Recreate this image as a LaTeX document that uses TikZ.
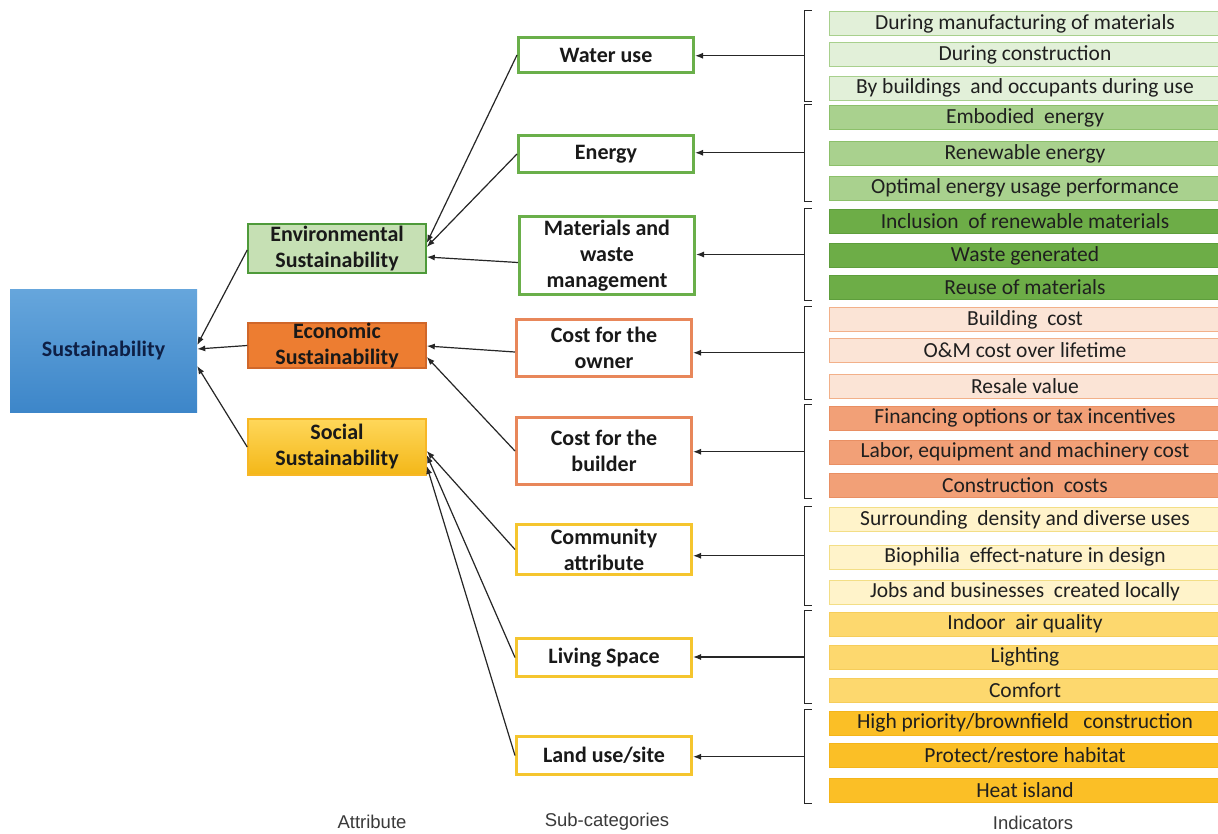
\documentclass[tikz,border=0pt]{standalone}
\usepackage{fontspec}
\setmainfont{Carlito}
\newfontfamily\labfont{Liberation Sans}
\usetikzlibrary{arrows.meta,calc}
\definecolor{susTop}{HTML}{66A6DC}
\definecolor{susBot}{HTML}{3D86C9}
\definecolor{susTxt}{HTML}{0E1F45}
\definecolor{envFill}{HTML}{C6E0B4}
\definecolor{envLine}{HTML}{4E9A3A}
\definecolor{ecoFill}{HTML}{ED7D31}
\definecolor{ecoLine}{HTML}{D0672A}
\definecolor{socTop}{HTML}{FFD75A}
\definecolor{socBot}{HTML}{F3B718}
\definecolor{gLine}{HTML}{6AAF4A}
\definecolor{oLine}{HTML}{E8875A}
\definecolor{yLine}{HTML}{F5C52E}
\definecolor{wFill}{HTML}{E2F0D9}
\definecolor{wLine}{HTML}{A8D08D}
\definecolor{eFill}{HTML}{A9D18E}
\definecolor{eLine}{HTML}{8CC06A}
\definecolor{mFill}{HTML}{6DAD47}
\definecolor{mLine}{HTML}{5E9E3C}
\definecolor{owFill}{HTML}{FBE4D6}
\definecolor{owLine}{HTML}{F2B089}
\definecolor{bdFill}{HTML}{F2A077}
\definecolor{bdLine}{HTML}{E98F63}
\definecolor{cmFill}{HTML}{FFF3CA}
\definecolor{cmLine}{HTML}{F3DE86}
\definecolor{lvFill}{HTML}{FDD86E}
\definecolor{lvLine}{HTML}{F6CD5A}
\definecolor{ldFill}{HTML}{FBBF26}
\definecolor{ldLine}{HTML}{F4B51A}
\definecolor{labTxt}{HTML}{3A3A3A}
\begin{document}
\begin{tikzpicture}[x=1pt,y=-1pt,
  ind/.style={draw, line width=0.8pt, minimum width=392pt, minimum height=24pt,
    inner sep=0pt, font=\fontsize{21.5}{24}\selectfont, text=black!88},
  sub/.style={draw, fill=white, line width=3pt, minimum width=175pt, align=center,
    inner sep=0pt, font=\fontsize{22}{26}\selectfont\bfseries, text=black!90},
  attr/.style={draw, line width=1.5pt, minimum width=178pt, align=center,
    inner sep=0pt, font=\fontsize{22}{26}\selectfont\bfseries, text=black!90},
  arr/.style={-{Latex[length=8pt,width=6pt]}, line width=1.2pt, draw=black!85},
  brk/.style={line width=1pt, draw=black!85},
  lab/.style={font=\labfont\fontsize{18.5}{20}\selectfont, text=labTxt}]
\useasboundingbox (0,0) rectangle (1218,833);
\fill[white] (0,0) rectangle (1218,833);

% root
\node[shade, top color=susTop, bottom color=susBot, minimum width=187pt, minimum height=123pt,
  inner sep=0pt, font=\fontsize{22}{26}\selectfont\bfseries, text=susTxt] (sus) at (103.5,350.5) {Sustainability};

% attributes
\node[attr, draw=envLine, fill=envFill, minimum height=49pt] (env) at (337,248.5) {Environmental\\Sustainability};
\node[attr, draw=ecoLine, fill=ecoFill, minimum height=45pt] (eco) at (337,345.5) {Economic\\Sustainability};
\node[attr, draw=yLine!80!orange, shade, top color=socTop, bottom color=socBot, minimum height=56pt] (soc) at (337,447) {Social\\Sustainability};

% sub-categories
\node[sub, draw=gLine, minimum height=35pt] (wat) at (606,55) {Water use};
\node[sub, draw=gLine, minimum height=37pt] (ene) at (606,154) {Energy};
\node[sub, draw=gLine, minimum height=78pt] (mat) at (607,255.5) {Materials and\\waste\\management};
\node[sub, draw=oLine, minimum height=57pt] (own) at (604,348) {Cost for the\\owner};
\node[sub, draw=oLine, minimum height=67pt] (bld) at (604,451) {Cost for the\\builder};
\node[sub, draw=yLine, minimum height=50pt] (com) at (604,549.5) {Community\\attribute};
\node[sub, draw=yLine, minimum height=38pt] (liv) at (604,657.5) {Living Space};
\node[sub, draw=yLine, minimum height=38pt] (lan) at (604,755.5) {Land use/site};

% indicators
\node[ind, fill=wFill, draw=wLine] (i1) at (1025,23.5) {During manufacturing of materials};
\node[ind, fill=wFill, draw=wLine] (i2) at (1025,54.5) {During construction};
\node[ind, fill=wFill, draw=wLine] (i3) at (1025,88) {By buildings\ \ and occupants during use};
\node[ind, fill=eFill, draw=eLine] (i4) at (1025,117.5) {Embodied\ \ energy};
\node[ind, fill=eFill, draw=eLine] (i5) at (1025,153.5) {Renewable energy};
\node[ind, fill=eFill, draw=eLine] (i6) at (1025,188) {Optimal energy usage performance};
\node[ind, fill=mFill, draw=mLine] (i7) at (1025,221.5) {Inclusion\ \ of renewable materials};
\node[ind, fill=mFill, draw=mLine] (i8) at (1025,255.5) {Waste generated};
\node[ind, fill=mFill, draw=mLine] (i9) at (1025,287.5) {Reuse of materials};
\node[ind, fill=owFill, draw=owLine] (i10) at (1025,319.5) {Building\ \ cost};
\node[ind, fill=owFill, draw=owLine] (i11) at (1025,350.5) {O\&M cost over lifetime};
\node[ind, fill=owFill, draw=owLine] (i12) at (1025,386) {Resale value};
\node[ind, fill=bdFill, draw=bdLine] (i13) at (1025,418) {Financing options or tax incentives};
\node[ind, fill=bdFill, draw=bdLine] (i14) at (1025,452) {Labor, equipment and machinery cost};
\node[ind, fill=bdFill, draw=bdLine] (i15) at (1025,485.5) {Construction\ \ costs};
\node[ind, fill=cmFill, draw=cmLine] (i16) at (1025,519.5) {Surrounding\ \ density and diverse uses};
\node[ind, fill=cmFill, draw=cmLine] (i17) at (1025,557) {Biophilia\ \ effect-nature in design};
\node[ind, fill=cmFill, draw=cmLine] (i18) at (1025,592) {Jobs and businesses\ \ created locally};
\node[ind, fill=lvFill, draw=lvLine] (i19) at (1025,624) {Indoor\ \ air quality};
\node[ind, fill=lvFill, draw=lvLine] (i20) at (1025,657) {Lighting};
\node[ind, fill=lvFill, draw=lvLine] (i21) at (1025,690) {Comfort};
\node[ind, fill=ldFill, draw=ldLine] (i22) at (1025,723) {High priority/brownfield\ \ \ construction};
\node[ind, fill=ldFill, draw=ldLine] (i23) at (1025,755.5) {Protect/restore habitat};
\node[ind, fill=ldFill, draw=ldLine] (i24) at (1025,790.5) {Heat island};

% brackets and arrows to sub-categories
\foreach \a/\b/\t/\n in {i1/i3/wat/1, i4/i6/ene/2, i7/i9/mat/3, i10/i12/own/4,
  i13/i15/bld/5, i16/i18/com/6, i19/i21/liv/7, i22/i24/lan/8}{
  \draw[brk] ([xshift=-17pt,yshift=1pt]\a.north west) -- ++(-7,0) |- ([xshift=-17pt,yshift=-1pt]\b.south west);
  \coordinate (m\n) at ($([xshift=-24pt,yshift=1pt]\a.north west)!0.5!([xshift=-24pt,yshift=-1pt]\b.south west)$);
  \draw[arr] (m\n) -- (m\n -| \t.east);
}

% sub-categories to attributes
\draw[arr] (wat.west) -- ([yshift=5.5pt]env.east);
\draw[arr] (ene.west) -- ([yshift=1.5pt]env.east);
\draw[arr] ([yshift=-7pt]mat.west) -- ([yshift=-8.5pt]env.east);
\draw[arr] ([yshift=-4pt]own.west) -- ([yshift=-0.5pt]eco.east);
\draw[arr] (bld.west) -- ([yshift=-11.5pt]eco.east);
\draw[arr] (com.west) -- ([yshift=-4pt]soc.east);
\draw[arr] (liv.west) -- ([yshift=-8pt]soc.east);
\draw[arr] (lan.west) -- ([yshift=-19pt]soc.east);

% attributes to root
\draw[arr] ([yshift=-1.5pt]env.west) -- ([yshift=5.5pt]sus.east);
\draw[arr] (eco.west) -- ([yshift=1.5pt]sus.east);
\draw[arr] (soc.west) -- ([yshift=-15.5pt]sus.east);

% column labels
\node[lab] (la) at (372,822) {Attribute};
\node[lab] (lb) at (607,822) {Sub-categories};
\node[lab] (lc) at (1033,823) {Indicators};
\end{tikzpicture}
\end{document}
